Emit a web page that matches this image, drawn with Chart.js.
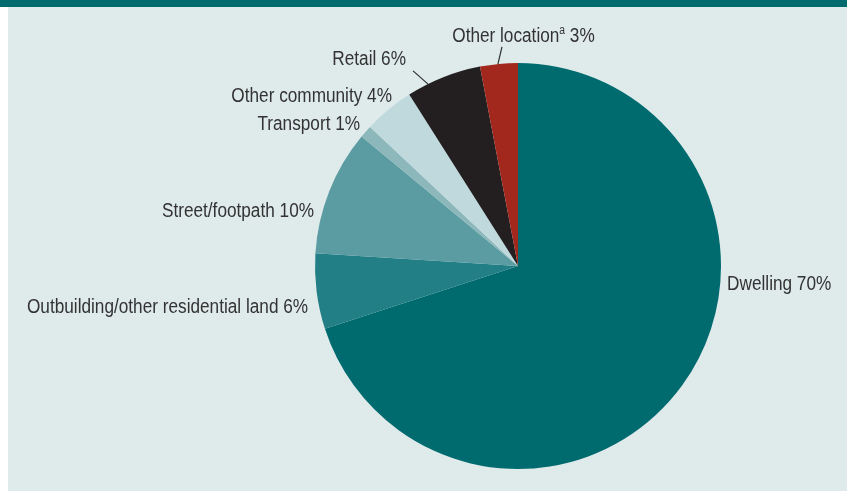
<!DOCTYPE html>
<html>
<head>
<meta charset="utf-8">
<script src="https://cdn.jsdelivr.net/npm/chart.js@4/dist/chart.umd.min.js"></script>
<style>
    html, body { margin: 0; padding: 0; background: #fff; }
    #wrap { position: relative; width: 847px; height: 492px; overflow: hidden; }
    #panel { position: absolute; left: 8px; top: 0; width: 839px; height: 491px; background: #dfeaeb; }
    #band { position: absolute; left: 0; top: 0; width: 847px; height: 7px; background: #006b6f; }
    canvas { position: absolute; left: 0; top: 0; }
</style>
</head>
<body>
<div id="wrap">
    <div id="panel"></div>
    <div id="band"></div>
    <canvas id="pie" width="847" height="492"></canvas>
</div>
<script>
const categories = ['Dwelling', 'Outbuilding/other residential land', 'Street/footpath', 'Transport',
    'Other community', 'Retail', 'Other location'];
const notes = ['', '', '', '', '', '', 'a'];
const shares = [70, 6, 10, 1, 4, 6, 3];
const colors = ['#006b6f', '#217f85', '#5b9ca2', '#8cb8bb', '#bfd9dc', '#231f20', '#a2281d'];

// label anchors in units of the pie radius, relative to its centre
const labelPos = [
    { dx: 1.03, dy: 0.089, align: 'left' },
    { dx: -1.034, dy: 0.202, align: 'right' },
    { dx: -1.005, dy: -0.271, align: 'right' },
    { dx: -0.778, dy: -0.695, align: 'right' },
    { dx: -0.621, dy: -0.833, align: 'right' },
    { dx: -0.552, dy: -1.015, align: 'right', lead: [-0.443, -0.896, -0.517, -0.961] },
    { dx: 0.027, dy: -1.133, align: 'center', lead: [-0.099, -0.995, -0.079, -1.079] },
];

const FONT = '"Liberation Sans", Arial, sans-serif';
const SQUEEZE = 0.86; // the original uses a condensed face

// draws a run of text pieces squeezed horizontally
function drawRun(ctx, pieces, x, y, align) {
    let total = 0;
    pieces.forEach(p => {
        ctx.font = p.size + 'px ' + FONT;
        p.w = ctx.measureText(p.text).width * SQUEEZE;
        total += p.w;
    });
    let x0 = align === 'center' ? x - total / 2 : align === 'right' ? x - total : x;
    ctx.textAlign = 'left';
    pieces.forEach(p => {
        ctx.save();
        ctx.font = p.size + 'px ' + FONT;
        ctx.translate(x0, y + (p.rise || 0));
        ctx.scale(SQUEEZE, 1);
        ctx.fillText(p.text, 0, 0);
        ctx.restore();
        x0 += p.w;
    });
}

const pieLabels = {
    id: 'pieLabels',
    afterDraw(chart) {
        const ctx = chart.ctx;
        const arcs = chart.getDatasetMeta(0).data;
        const cx = arcs[0].x, cy = arcs[0].y, r = arcs[0].outerRadius;
        ctx.save();
        ctx.fillStyle = '#333333';
        ctx.strokeStyle = '#2e2e2e';
        ctx.lineWidth = 1.2;
        ctx.textBaseline = 'middle';
        categories.forEach((name, i) => {
            const p = labelPos[i];
            const x = cx + p.dx * r, y = cy + p.dy * r;
            const pieces = [{ text: name, size: 20 }];
            if (notes[i]) pieces.push({ text: notes[i], size: 12, rise: -5 });
            pieces.push({ text: ' ' + shares[i] + '%', size: 20 });
            drawRun(ctx, pieces, x, y, p.align);
            if (p.lead) {
                ctx.beginPath();
                ctx.moveTo(cx + p.lead[0] * r, cy + p.lead[1] * r);
                ctx.lineTo(cx + p.lead[2] * r, cy + p.lead[3] * r);
                ctx.stroke();
            }
        });
        ctx.restore();
    }
};

new Chart(document.getElementById('pie'), {
    type: 'pie',
    data: {
        labels: categories,
        datasets: [{
            data: shares,
            backgroundColor: colors,
            borderWidth: 0,
        }],
    },
    options: {
        responsive: false,
        animation: false,
        layout: { padding: { left: 315, right: 126, top: 63, bottom: 23 } },
        plugins: {
            legend: { display: false },
            tooltip: { enabled: false },
        },
    },
    plugins: [pieLabels],
});
</script>
</body>
</html>
